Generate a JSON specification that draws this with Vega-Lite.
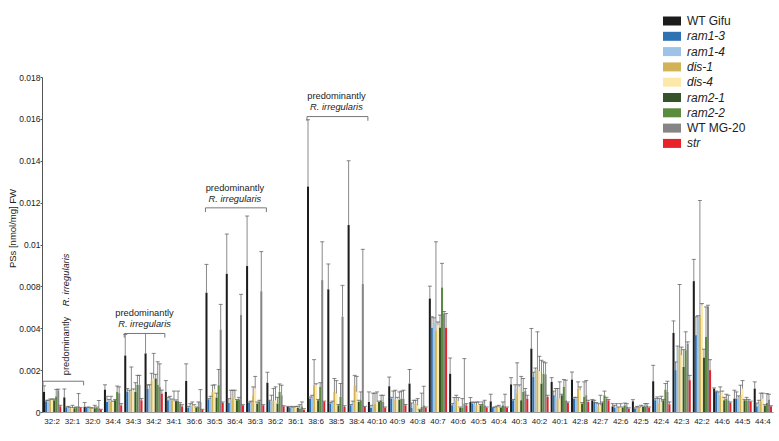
{
"$schema": "https://vega.github.io/schema/vega-lite/v6.json",
"width": 731, "height": 335,
"autosize": {"type": "none"},
"padding": {"left": 42, "top": 77, "right": 6, "bottom": 29},
"config": {"view": {"stroke": null}, "font": "Liberation Sans"},
"datasets": {
"bars": [
{"c":"32:2","g":"WT Gifu","v":0.00096,"e":0.00125},{"c":"32:2","g":"ram1-3","v":0.00051,"e":0.00056},{"c":"32:2","g":"ram1-4","v":0.0005,"e":0.00056},{"c":"32:2","g":"dis-1","v":0.00056,"e":0.00062},{"c":"32:2","g":"dis-4","v":0.00056,"e":0.00062},{"c":"32:2","g":"ram2-1","v":0.00056,"e":0.00062},{"c":"32:2","g":"ram2-2","v":0.00075,"e":0.00108},{"c":"32:2","g":"WT MG-20","v":0.00104,"e":0.00109},{"c":"32:2","g":"str","v":0.00027,"e":0.00032},
{"c":"32:1","g":"WT Gifu","v":0.0007,"e":0.0011},{"c":"32:1","g":"ram1-3","v":0.0002,"e":0.00024},{"c":"32:1","g":"ram1-4","v":0.0002,"e":0.00027},{"c":"32:1","g":"dis-1","v":0.00018,"e":0.00022},{"c":"32:1","g":"dis-4","v":0.0002,"e":0.00032},{"c":"32:1","g":"ram2-1","v":0.00018,"e":0.00022},{"c":"32:1","g":"ram2-2","v":0.0002,"e":0.00024},{"c":"32:1","g":"WT MG-20","v":0.00027,"e":0.00088},{"c":"32:1","g":"str","v":0.00019,"e":0.00022},
{"c":"32:0","g":"WT Gifu","v":0.00025,"e":0.00045},{"c":"32:0","g":"ram1-3","v":0.00019,"e":0.00022},{"c":"32:0","g":"ram1-4","v":0.0002,"e":0.00024},{"c":"32:0","g":"dis-1","v":0.00018,"e":0.0002},{"c":"32:0","g":"dis-4","v":0.00016,"e":0.0002},{"c":"32:0","g":"ram2-1","v":0.00018,"e":0.00032},{"c":"32:0","g":"ram2-2","v":0.0002,"e":0.00024},{"c":"32:0","g":"WT MG-20","v":0.00018,"e":0.00055},{"c":"32:0","g":"str","v":0.00011,"e":0.00013},
{"c":"34:4","g":"WT Gifu","v":0.00107,"e":0.0013},{"c":"34:4","g":"ram1-3","v":0.00048,"e":0.00075},{"c":"34:4","g":"ram1-4","v":0.00056,"e":0.0006},{"c":"34:4","g":"dis-1","v":0.00048,"e":0.00075},{"c":"34:4","g":"dis-4","v":0.00048,"e":0.00052},{"c":"34:4","g":"ram2-1","v":0.00056,"e":0.0006},{"c":"34:4","g":"ram2-2","v":0.00096,"e":0.00124},{"c":"34:4","g":"WT MG-20","v":0.0009,"e":0.0012},{"c":"34:4","g":"str","v":0.00032,"e":0.0004},
{"c":"34:3","g":"WT Gifu","v":0.0027,"e":0.0037},{"c":"34:3","g":"ram1-3","v":0.00096,"e":0.00112},{"c":"34:3","g":"ram1-4","v":0.00096,"e":0.00104},{"c":"34:3","g":"dis-1","v":0.001,"e":0.00215},{"c":"34:3","g":"dis-4","v":0.00104,"e":0.0011},{"c":"34:3","g":"ram2-1","v":0.00096,"e":0.0014},{"c":"34:3","g":"ram2-2","v":0.0013,"e":0.00175},{"c":"34:3","g":"WT MG-20","v":0.0013,"e":0.00175},{"c":"34:3","g":"str","v":0.00056,"e":0.00064},
{"c":"34:2","g":"WT Gifu","v":0.0028,"e":0.00375},{"c":"34:2","g":"ram1-3","v":0.0011,"e":0.0013},{"c":"34:2","g":"ram1-4","v":0.00115,"e":0.0013},{"c":"34:2","g":"dis-1","v":0.0015,"e":0.00185},{"c":"34:2","g":"dis-4","v":0.0016,"e":0.0028},{"c":"34:2","g":"ram2-1","v":0.0016,"e":0.0018},{"c":"34:2","g":"ram2-2","v":0.0013,"e":0.0024},{"c":"34:2","g":"WT MG-20","v":0.0012,"e":0.0023},{"c":"34:2","g":"str","v":0.00088,"e":0.00105},
{"c":"34:1","g":"WT Gifu","v":0.00096,"e":0.0015},{"c":"34:1","g":"ram1-3","v":0.00056,"e":0.0007},{"c":"34:1","g":"ram1-4","v":0.0007,"e":0.00075},{"c":"34:1","g":"dis-1","v":0.00056,"e":0.00062},{"c":"34:1","g":"dis-4","v":0.0005,"e":0.001},{"c":"34:1","g":"ram2-1","v":0.00052,"e":0.00058},{"c":"34:1","g":"ram2-2","v":0.00052,"e":0.001},{"c":"34:1","g":"WT MG-20","v":0.0004,"e":0.00045},{"c":"34:1","g":"str","v":0.00027,"e":0.00035},
{"c":"36:6","g":"WT Gifu","v":0.00148,"e":0.0023},{"c":"36:6","g":"ram1-3","v":0.0002,"e":0.00027},{"c":"36:6","g":"ram1-4","v":0.00032,"e":0.0004},{"c":"36:6","g":"dis-1","v":0.00027,"e":0.00048},{"c":"36:6","g":"dis-4","v":0.0003,"e":0.00035},{"c":"36:6","g":"ram2-1","v":0.0002,"e":0.00024},{"c":"36:6","g":"ram2-2","v":0.00024,"e":0.00048},{"c":"36:6","g":"WT MG-20","v":0.00048,"e":0.00107},{"c":"36:6","g":"str","v":0.0001,"e":0.00013},
{"c":"36:5","g":"WT Gifu","v":0.0057,"e":0.00705},{"c":"36:5","g":"ram1-3","v":0.0006,"e":0.00064},{"c":"36:5","g":"ram1-4","v":0.00069,"e":0.00075},{"c":"36:5","g":"dis-1","v":0.00096,"e":0.00128},{"c":"36:5","g":"dis-4","v":0.0011,"e":0.0013},{"c":"36:5","g":"ram2-1","v":0.00069,"e":0.0009},{"c":"36:5","g":"ram2-2","v":0.00128,"e":0.00203},{"c":"36:5","g":"WT MG-20","v":0.00394,"e":0.00514},{"c":"36:5","g":"str","v":0.00043,"e":0.00048},
{"c":"36:4","g":"WT Gifu","v":0.0066,"e":0.0085},{"c":"36:4","g":"ram1-3","v":0.00043,"e":0.00064},{"c":"36:4","g":"ram1-4","v":0.00056,"e":0.00104},{"c":"36:4","g":"dis-1","v":0.0007,"e":0.00104},{"c":"36:4","g":"dis-4","v":0.00064,"e":0.00104},{"c":"36:4","g":"ram2-1","v":0.00056,"e":0.0006},{"c":"36:4","g":"ram2-2","v":0.0006,"e":0.0007},{"c":"36:4","g":"WT MG-20","v":0.00463,"e":0.00562},{"c":"36:4","g":"str","v":0.00032,"e":0.00035},
{"c":"36:3","g":"WT Gifu","v":0.00697,"e":0.00936},{"c":"36:3","g":"ram1-3","v":0.00043,"e":0.00048},{"c":"36:3","g":"ram1-4","v":0.00048,"e":0.00052},{"c":"36:3","g":"dis-1","v":0.0008,"e":0.0012},{"c":"36:3","g":"dis-4","v":0.00112,"e":0.0017},{"c":"36:3","g":"ram2-1","v":0.0004,"e":0.00048},{"c":"36:3","g":"ram2-2","v":0.00048,"e":0.00056},{"c":"36:3","g":"WT MG-20","v":0.00577,"e":0.00766},{"c":"36:3","g":"str","v":0.00032,"e":0.00035},
{"c":"36:2","g":"WT Gifu","v":0.0014,"e":0.0019},{"c":"36:2","g":"ram1-3","v":0.00052,"e":0.00056},{"c":"36:2","g":"ram1-4","v":0.00056,"e":0.0008},{"c":"36:2","g":"dis-1","v":0.00052,"e":0.00112},{"c":"36:2","g":"dis-4","v":0.00056,"e":0.0012},{"c":"36:2","g":"ram2-1","v":0.0004,"e":0.0007},{"c":"36:2","g":"ram2-2","v":0.00096,"e":0.00134},{"c":"36:2","g":"WT MG-20","v":0.0008,"e":0.00128},{"c":"36:2","g":"str","v":0.00027,"e":0.0003},
{"c":"36:1","g":"WT Gifu","v":0.00024,"e":0.00027},{"c":"36:1","g":"ram1-3","v":0.0002,"e":0.00024},{"c":"36:1","g":"ram1-4","v":0.00024,"e":0.00027},{"c":"36:1","g":"dis-1","v":0.0002,"e":0.00024},{"c":"36:1","g":"dis-4","v":0.00024,"e":0.00027},{"c":"36:1","g":"ram2-1","v":0.0002,"e":0.00027},{"c":"36:1","g":"ram2-2","v":0.00016,"e":0.00035},{"c":"36:1","g":"WT MG-20","v":0.00027,"e":0.00048},{"c":"36:1","g":"str","v":0.0001,"e":0.00016},
{"c":"38:6","g":"WT Gifu","v":0.01077,"e":0.01396},{"c":"38:6","g":"ram1-3","v":0.00064,"e":0.00072},{"c":"38:6","g":"ram1-4","v":0.00072,"e":0.0008},{"c":"38:6","g":"dis-1","v":0.00128,"e":0.0025},{"c":"38:6","g":"dis-4","v":0.00128,"e":0.00135},{"c":"38:6","g":"ram2-1","v":0.00056,"e":0.0006},{"c":"38:6","g":"ram2-2","v":0.0012,"e":0.0014},{"c":"38:6","g":"WT MG-20","v":0.0063,"e":0.00813},{"c":"38:6","g":"str","v":0.00048,"e":0.00052},
{"c":"38:5","g":"WT Gifu","v":0.00586,"e":0.00707},{"c":"38:5","g":"ram1-3","v":0.0004,"e":0.00045},{"c":"38:5","g":"ram1-4","v":0.00048,"e":0.00052},{"c":"38:5","g":"dis-1","v":0.00096,"e":0.0016},{"c":"38:5","g":"dis-4","v":0.00088,"e":0.0015},{"c":"38:5","g":"ram2-1","v":0.00032,"e":0.00036},{"c":"38:5","g":"ram2-2","v":0.00072,"e":0.00136},{"c":"38:5","g":"WT MG-20","v":0.00455,"e":0.00605},{"c":"38:5","g":"str","v":0.00024,"e":0.0003},
{"c":"38:4","g":"WT Gifu","v":0.00893,"e":0.012},{"c":"38:4","g":"ram1-3","v":0.00032,"e":0.00036},{"c":"38:4","g":"ram1-4","v":0.00048,"e":0.00052},{"c":"38:4","g":"dis-1","v":0.00128,"e":0.00175},{"c":"38:4","g":"dis-4","v":0.00096,"e":0.0017},{"c":"38:4","g":"ram2-1","v":0.00048,"e":0.00056},{"c":"38:4","g":"ram2-2","v":0.00056,"e":0.00096},{"c":"38:4","g":"WT MG-20","v":0.00611,"e":0.00777},{"c":"38:4","g":"str","v":0.00024,"e":0.00027},
{"c":"40:10","g":"WT Gifu","v":0.00048,"e":0.00096},{"c":"40:10","g":"ram1-3","v":0.0002,"e":0.00032},{"c":"40:10","g":"ram1-4","v":0.00032,"e":0.0009},{"c":"40:10","g":"dis-1","v":0.0004,"e":0.0009},{"c":"40:10","g":"dis-4","v":0.00048,"e":0.00096},{"c":"40:10","g":"ram2-1","v":0.00048,"e":0.00052},{"c":"40:10","g":"ram2-2","v":0.00056,"e":0.0008},{"c":"40:10","g":"WT MG-20","v":0.00048,"e":0.0008},{"c":"40:10","g":"str","v":0.0002,"e":0.00024},
{"c":"40:9","g":"WT Gifu","v":0.00123,"e":0.00167},{"c":"40:9","g":"ram1-3","v":0.00064,"e":0.0007},{"c":"40:9","g":"ram1-4","v":0.00069,"e":0.001},{"c":"40:9","g":"dis-1","v":0.00059,"e":0.00104},{"c":"40:9","g":"dis-4","v":0.00064,"e":0.0007},{"c":"40:9","g":"ram2-1","v":0.00059,"e":0.00096},{"c":"40:9","g":"ram2-2","v":0.00064,"e":0.001},{"c":"40:9","g":"WT MG-20","v":0.00064,"e":0.00104},{"c":"40:9","g":"str","v":0.00032,"e":0.00036},
{"c":"40:8","g":"WT Gifu","v":0.00136,"e":0.00203},{"c":"40:8","g":"ram1-3","v":0.0002,"e":0.00043},{"c":"40:8","g":"ram1-4","v":0.0004,"e":0.00056},{"c":"40:8","g":"dis-1","v":0.0004,"e":0.00056},{"c":"40:8","g":"dis-4","v":0.00032,"e":0.00064},{"c":"40:8","g":"ram2-1","v":0.0001,"e":0.00013},{"c":"40:8","g":"ram2-2","v":0.00024,"e":0.0009},{"c":"40:8","g":"WT MG-20","v":0.00032,"e":0.00123},{"c":"40:8","g":"str","v":0.0002,"e":0.00024},
{"c":"40:7","g":"WT Gifu","v":0.00542,"e":0.00601},{"c":"40:7","g":"ram1-3","v":0.00402,"e":0.00455},{"c":"40:7","g":"ram1-4","v":0.00426,"e":0.0045},{"c":"40:7","g":"dis-1","v":0.0039,"e":0.00813},{"c":"40:7","g":"dis-4","v":0.00415,"e":0.0043},{"c":"40:7","g":"ram2-1","v":0.00403,"e":0.00463},{"c":"40:7","g":"ram2-2","v":0.00595,"e":0.0071},{"c":"40:7","g":"WT MG-20","v":0.0047,"e":0.0048},{"c":"40:7","g":"str","v":0.00402,"e":0.0047},
{"c":"40:6","g":"WT Gifu","v":0.00183,"e":0.00258},{"c":"40:6","g":"ram1-3","v":0.00032,"e":0.0004},{"c":"40:6","g":"ram1-4","v":0.00048,"e":0.00069},{"c":"40:6","g":"dis-1","v":0.00056,"e":0.0008},{"c":"40:6","g":"dis-4","v":0.00052,"e":0.00069},{"c":"40:6","g":"ram2-1","v":0.0002,"e":0.00024},{"c":"40:6","g":"ram2-2","v":0.0002,"e":0.00064},{"c":"40:6","g":"WT MG-20","v":0.0004,"e":0.00255},{"c":"40:6","g":"str","v":0.00032,"e":0.0004},
{"c":"40:5","g":"WT Gifu","v":0.00048,"e":0.00069},{"c":"40:5","g":"ram1-3","v":0.0004,"e":0.00048},{"c":"40:5","g":"ram1-4","v":0.0004,"e":0.00045},{"c":"40:5","g":"dis-1","v":0.00032,"e":0.00048},{"c":"40:5","g":"dis-4","v":0.0004,"e":0.00048},{"c":"40:5","g":"ram2-1","v":0.00032,"e":0.00036},{"c":"40:5","g":"ram2-2","v":0.0004,"e":0.00048},{"c":"40:5","g":"WT MG-20","v":0.00032,"e":0.00056},{"c":"40:5","g":"str","v":0.0002,"e":0.00024},
{"c":"40:4","g":"WT Gifu","v":0.00051,"e":0.00085},{"c":"40:4","g":"ram1-3","v":0.00019,"e":0.00022},{"c":"40:4","g":"ram1-4","v":0.0002,"e":0.00024},{"c":"40:4","g":"dis-1","v":0.00024,"e":0.00028},{"c":"40:4","g":"dis-4","v":0.00027,"e":0.00032},{"c":"40:4","g":"ram2-1","v":0.0002,"e":0.00024},{"c":"40:4","g":"ram2-2","v":0.00032,"e":0.00048},{"c":"40:4","g":"WT MG-20","v":0.00027,"e":0.00085},{"c":"40:4","g":"str","v":0.0002,"e":0.00024},
{"c":"40:3","g":"WT Gifu","v":0.00132,"e":0.00164},{"c":"40:3","g":"ram1-3","v":0.00056,"e":0.0006},{"c":"40:3","g":"ram1-4","v":0.00112,"e":0.0013},{"c":"40:3","g":"dis-1","v":0.0009,"e":0.00235},{"c":"40:3","g":"dis-4","v":0.0012,"e":0.0013},{"c":"40:3","g":"ram2-1","v":0.00056,"e":0.0017},{"c":"40:3","g":"ram2-2","v":0.00096,"e":0.0016},{"c":"40:3","g":"WT MG-20","v":0.001,"e":0.00112},{"c":"40:3","g":"str","v":0.00064,"e":0.0008},
{"c":"40:2","g":"WT Gifu","v":0.00303,"e":0.00399},{"c":"40:2","g":"ram1-3","v":0.00167,"e":0.0019},{"c":"40:2","g":"ram1-4","v":0.00203,"e":0.0021},{"c":"40:2","g":"dis-1","v":0.002,"e":0.00383},{"c":"40:2","g":"dis-4","v":0.00195,"e":0.00266},{"c":"40:2","g":"ram2-1","v":0.00136,"e":0.00247},{"c":"40:2","g":"ram2-2","v":0.00183,"e":0.0024},{"c":"40:2","g":"WT MG-20","v":0.0018,"e":0.00235},{"c":"40:2","g":"str","v":0.00072,"e":0.0008},
{"c":"40:1","g":"WT Gifu","v":0.00144,"e":0.00164},{"c":"40:1","g":"ram1-3","v":0.0008,"e":0.001},{"c":"40:1","g":"ram1-4","v":0.00072,"e":0.00112},{"c":"40:1","g":"dis-1","v":0.00064,"e":0.00112},{"c":"40:1","g":"dis-4","v":0.00064,"e":0.00144},{"c":"40:1","g":"ram2-1","v":0.0008,"e":0.00085},{"c":"40:1","g":"ram2-2","v":0.0012,"e":0.00155},{"c":"40:1","g":"WT MG-20","v":0.00056,"e":0.00152},{"c":"40:1","g":"str","v":0.00043,"e":0.00048},
{"c":"42:8","g":"WT Gifu","v":0.00155,"e":0.00191},{"c":"42:8","g":"ram1-3","v":0.00064,"e":0.0007},{"c":"42:8","g":"ram1-4","v":0.00064,"e":0.0007},{"c":"42:8","g":"dis-1","v":0.00112,"e":0.00144},{"c":"42:8","g":"dis-4","v":0.00104,"e":0.0012},{"c":"42:8","g":"ram2-1","v":0.0004,"e":0.00045},{"c":"42:8","g":"ram2-2","v":0.00072,"e":0.00144},{"c":"42:8","g":"WT MG-20","v":0.0008,"e":0.0015},{"c":"42:8","g":"str","v":0.00048,"e":0.00056},
{"c":"42:7","g":"WT Gifu","v":0.00056,"e":0.0006},{"c":"42:7","g":"ram1-3","v":0.00048,"e":0.00056},{"c":"42:7","g":"ram1-4","v":0.0004,"e":0.00045},{"c":"42:7","g":"dis-1","v":0.00027,"e":0.0004},{"c":"42:7","g":"dis-4","v":0.00032,"e":0.0008},{"c":"42:7","g":"ram2-1","v":0.00043,"e":0.00048},{"c":"42:7","g":"ram2-2","v":0.0008,"e":0.001},{"c":"42:7","g":"WT MG-20","v":0.00064,"e":0.0007},{"c":"42:7","g":"str","v":0.00056,"e":0.0006},
{"c":"42:6","g":"WT Gifu","v":0.00027,"e":0.0004},{"c":"42:6","g":"ram1-3","v":0.0002,"e":0.00032},{"c":"42:6","g":"ram1-4","v":0.00027,"e":0.0004},{"c":"42:6","g":"dis-1","v":0.0002,"e":0.00024},{"c":"42:6","g":"dis-4","v":0.00024,"e":0.0004},{"c":"42:6","g":"ram2-1","v":0.0002,"e":0.00024},{"c":"42:6","g":"ram2-2","v":0.00032,"e":0.00043},{"c":"42:6","g":"WT MG-20","v":0.00027,"e":0.0004},{"c":"42:6","g":"str","v":0.00016,"e":0.0002},
{"c":"42:5","g":"WT Gifu","v":0.00051,"e":0.00059},{"c":"42:5","g":"ram1-3","v":0.00016,"e":0.0002},{"c":"42:5","g":"ram1-4","v":0.0002,"e":0.00027},{"c":"42:5","g":"dis-1","v":0.0002,"e":0.00024},{"c":"42:5","g":"dis-4","v":0.00027,"e":0.00032},{"c":"42:5","g":"ram2-1","v":0.00024,"e":0.00028},{"c":"42:5","g":"ram2-2","v":0.00027,"e":0.0004},{"c":"42:5","g":"WT MG-20","v":0.00032,"e":0.0004},{"c":"42:5","g":"str","v":0.0002,"e":0.00024},
{"c":"42:4","g":"WT Gifu","v":0.00147,"e":0.00223},{"c":"42:4","g":"ram1-3","v":0.00056,"e":0.00064},{"c":"42:4","g":"ram1-4","v":0.0006,"e":0.00072},{"c":"42:4","g":"dis-1","v":0.00043,"e":0.00064},{"c":"42:4","g":"dis-4","v":0.00048,"e":0.00075},{"c":"42:4","g":"ram2-1","v":0.00056,"e":0.0006},{"c":"42:4","g":"ram2-2","v":0.00107,"e":0.00136},{"c":"42:4","g":"WT MG-20","v":0.00096,"e":0.00147},{"c":"42:4","g":"str","v":0.00037,"e":0.00048},
{"c":"42:3","g":"WT Gifu","v":0.00378,"e":0.00435},{"c":"42:3","g":"ram1-3","v":0.002,"e":0.00239},{"c":"42:3","g":"ram1-4","v":0.00311,"e":0.00315},{"c":"42:3","g":"dis-1","v":0.00303,"e":0.00609},{"c":"42:3","g":"dis-4","v":0.00271,"e":0.0031},{"c":"42:3","g":"ram2-1","v":0.00215,"e":0.00298},{"c":"42:3","g":"ram2-2","v":0.00295,"e":0.00383},{"c":"42:3","g":"WT MG-20","v":0.00327,"e":0.00335},{"c":"42:3","g":"str","v":0.00152,"e":0.00175},
{"c":"42:2","g":"WT Gifu","v":0.00625,"e":0.00729},{"c":"42:2","g":"ram1-3","v":0.00367,"e":0.00455},{"c":"42:2","g":"ram1-4","v":0.00455,"e":0.0046},{"c":"42:2","g":"dis-1","v":0.00463,"e":0.0101},{"c":"42:2","g":"dis-4","v":0.0051,"e":0.00518},{"c":"42:2","g":"ram2-1","v":0.0026,"e":0.003},{"c":"42:2","g":"ram2-2","v":0.00359,"e":0.00502},{"c":"42:2","g":"WT MG-20","v":0.00502,"e":0.0051},{"c":"42:2","g":"str","v":0.002,"e":0.0025},
{"c":"44:6","g":"WT Gifu","v":0.00112,"e":0.00115},{"c":"44:6","g":"ram1-3","v":0.00096,"e":0.001},{"c":"44:6","g":"ram1-4","v":0.00091,"e":0.00096},{"c":"44:6","g":"dis-1","v":0.0008,"e":0.0012},{"c":"44:6","g":"dis-4","v":0.00096,"e":0.001},{"c":"44:6","g":"ram2-1","v":0.00056,"e":0.0007},{"c":"44:6","g":"ram2-2","v":0.00064,"e":0.00085},{"c":"44:6","g":"WT MG-20","v":0.00056,"e":0.0008},{"c":"44:6","g":"str","v":0.00043,"e":0.00048},
{"c":"44:5","g":"WT Gifu","v":0.00064,"e":0.00104},{"c":"44:5","g":"ram1-3","v":0.00064,"e":0.00096},{"c":"44:5","g":"ram1-4","v":0.00072,"e":0.00077},{"c":"44:5","g":"dis-1","v":0.0008,"e":0.00128},{"c":"44:5","g":"dis-4","v":0.00112,"e":0.0015},{"c":"44:5","g":"ram2-1","v":0.00056,"e":0.0006},{"c":"44:5","g":"ram2-2","v":0.00056,"e":0.0007},{"c":"44:5","g":"WT MG-20","v":0.00053,"e":0.0006},{"c":"44:5","g":"str","v":0.00048,"e":0.00052},
{"c":"44:4","g":"WT Gifu","v":0.00112,"e":0.00144},{"c":"44:4","g":"ram1-3","v":0.00027,"e":0.00043},{"c":"44:4","g":"ram1-4","v":0.0004,"e":0.00056},{"c":"44:4","g":"dis-1","v":0.00048,"e":0.0009},{"c":"44:4","g":"dis-4","v":0.00064,"e":0.0009},{"c":"44:4","g":"ram2-1","v":0.0003,"e":0.00035},{"c":"44:4","g":"ram2-2","v":0.00043,"e":0.00088},{"c":"44:4","g":"WT MG-20","v":0.00059,"e":0.00085},{"c":"44:4","g":"str","v":0.00027,"e":0.0003}
],
"brackets": [
{"b":1,"c":"32:2","y":0.00127,"o":0},{"b":1,"c":"32:2","y":0.00147,"o":1},{"b":1,"c":"32:0","y":0.00147,"o":2},{"b":1,"c":"32:0","y":0.00127,"o":3},
{"b":2,"c":"34:3","y":0.00355,"o":0},{"b":2,"c":"34:3","y":0.00375,"o":1},{"b":2,"c":"34:1","y":0.00375,"o":2},{"b":2,"c":"34:1","y":0.00355,"o":3},
{"b":3,"c":"36:5","y":0.00955,"o":0},{"b":3,"c":"36:5","y":0.00975,"o":1},{"b":3,"c":"36:2","y":0.00975,"o":2},{"b":3,"c":"36:2","y":0.00955,"o":3},
{"b":4,"c":"38:6","y":0.01391,"o":0},{"b":4,"c":"38:6","y":0.01411,"o":1},{"b":4,"c":"40:10","y":0.01411,"o":2},{"b":4,"c":"40:10","y":0.01391,"o":3}
]
},
"encoding": {
"x": {"field": "c", "type": "nominal",
  "scale": {"domain": ["32:2","32:1","32:0","34:4","34:3","34:2","34:1","36:6","36:5","36:4","36:3","36:2","36:1","38:6","38:5","38:4","40:10","40:9","40:8","40:7","40:6","40:5","40:4","40:3","40:2","40:1","42:8","42:7","42:6","42:5","42:4","42:3","42:2","44:6","44:5","44:4"], "paddingInner": 0.1, "paddingOuter": 0.05},
  "axis": {"title": null, "labelAngle": 0, "ticks": false, "tickSize": 0, "labelFontSize": 8, "labelPadding": 5, "labelColor": "#222", "domainColor": "#999", "labelOverlap": false}},
"y": {"type": "quantitative",
  "scale": {"domain": [0, 0.016], "nice": false, "zero": true},
  "axis": {"values": [0,0.002,0.004,0.006,0.008,0.01,0.012,0.014,0.016],
    "labelExpr": "datum.value < 0.005 ? format(datum.value, '~g') : format(datum.value + 0.002, '~g')",
    "title": "PSs [nmol/mg] FW", "titleFontWeight": "normal", "titleFontSize": 9.5, "titleColor": "#222", "titlePadding": 1, "titleY": 151,
    "grid": false, "tickSize": 2, "tickColor": "#555", "domainColor": "#555", "labelFontSize": 8.5, "labelPadding": 0, "labelColor": "#222"}}
},
"layer": [
{"data": {"name": "bars"}, "mark": {"type": "bar"},
 "encoding": {
  "y": {"field": "v", "type": "quantitative"},
  "xOffset": {"field": "g", "type": "nominal", "scale": {"domain": ["WT Gifu","ram1-3","ram1-4","dis-1","dis-4","ram2-1","ram2-2","WT MG-20","str"], "paddingInner": 0, "paddingOuter": 0}},
  "color": {"field": "g", "type": "nominal",
    "scale": {"domain": ["WT Gifu","ram1-3","ram1-4","dis-1","dis-4","ram2-1","ram2-2","WT MG-20","str"], "range": ["#1c1c1c","#2e72b4","#9dc3e6","#d2b257","#fce8a8","#36532a","#5b8b3c","#858585","#e8222b"]},
    "legend": {"orient": "none", "legendX": 621, "legendY": -65, "title": null, "padding": 0,
      "symbolType": "M-1,-0.5H1V0.5H-1Z", "symbolSize": 324, "symbolStrokeWidth": 0, "symbolOpacity": 1,
      "labelFontSize": 12, "labelColor": "#222", "labelOffset": 6, "rowPadding": 0.3,
      "labelFont": "Liberation Sans",
      "encode": {"labels": {"update": {"fontStyle": {"signal": "indexof(['WT Gifu','WT MG-20'], datum.value) >= 0 ? 'normal' : 'italic'"}}}}}}
 }},
{"data": {"name": "bars"}, "mark": {"type": "rule", "color": "#8a8a8a", "strokeWidth": 1},
 "encoding": {
  "xOffset": {"field": "g", "type": "nominal"},
  "y": {"field": "v", "type": "quantitative"},
  "y2": {"field": "e"}
 }},
{"data": {"name": "bars"}, "mark": {"type": "tick", "color": "#555", "thickness": 1, "size": 4, "orient": "horizontal"},
 "encoding": {
  "xOffset": {"field": "g", "type": "nominal"},
  "y": {"field": "e", "type": "quantitative"}
 }},
{"data": {"name": "brackets"}, "mark": {"type": "line", "color": "#777", "strokeWidth": 1},
 "encoding": {
  "x": {"field": "c", "type": "nominal", "bandPosition": 0},
  "y": {"field": "y", "type": "quantitative"},
  "detail": {"field": "b"},
  "order": {"field": "o"}
 }},
{"data": {"values": [{"t": "predominantly", "c": "32:1", "y": 0.00176}]},
 "mark": {"type": "text", "angle": 270, "align": "left", "baseline": "middle", "fontSize": 9.3, "color": "#222"},
 "encoding": {"x": {"field": "c", "type": "nominal", "bandPosition": 0.15}, "y": {"field": "y", "type": "quantitative"}, "text": {"field": "t"}}},
{"data": {"values": [{"t": "R. irregularis", "c": "32:1", "y": 0.00505}]},
 "mark": {"type": "text", "angle": 270, "align": "left", "baseline": "middle", "fontSize": 9.3, "fontStyle": "italic", "color": "#222"},
 "encoding": {"x": {"field": "c", "type": "nominal", "bandPosition": 0.15}, "y": {"field": "y", "type": "quantitative"}, "text": {"field": "t"}}},
{"data": {"values": [{"t": "predominantly", "c": "34:2", "y": 0.00471}]},
 "mark": {"type": "text", "align": "center", "baseline": "middle", "fontSize": 9.3, "color": "#222"},
 "encoding": {"x": {"field": "c", "type": "nominal", "bandPosition": 0}, "y": {"field": "y", "type": "quantitative"}, "text": {"field": "t"}}},
{"data": {"values": [{"t": "R. irregularis", "c": "34:2", "y": 0.00418}]},
 "mark": {"type": "text", "align": "center", "baseline": "middle", "fontSize": 9.3, "fontStyle": "italic", "color": "#222"},
 "encoding": {"x": {"field": "c", "type": "nominal", "bandPosition": 0}, "y": {"field": "y", "type": "quantitative"}, "text": {"field": "t"}}},
{"data": {"values": [{"t": "predominantly", "c": "36:4", "y": 0.0107}, {"t": "predominantly", "c": "38:5", "y": 0.01507}]},
 "mark": {"type": "text", "align": "center", "baseline": "middle", "fontSize": 9.3, "color": "#222"},
 "encoding": {"x": {"field": "c", "type": "nominal", "bandPosition": 0.5}, "y": {"field": "y", "type": "quantitative"}, "text": {"field": "t"}}},
{"data": {"values": [{"t": "R. irregularis", "c": "36:4", "y": 0.01018}, {"t": "R. irregularis", "c": "38:5", "y": 0.01455}]},
 "mark": {"type": "text", "align": "center", "baseline": "middle", "fontSize": 9.3, "fontStyle": "italic", "color": "#222"},
 "encoding": {"x": {"field": "c", "type": "nominal", "bandPosition": 0.5}, "y": {"field": "y", "type": "quantitative"}, "text": {"field": "t"}}}
]
}
